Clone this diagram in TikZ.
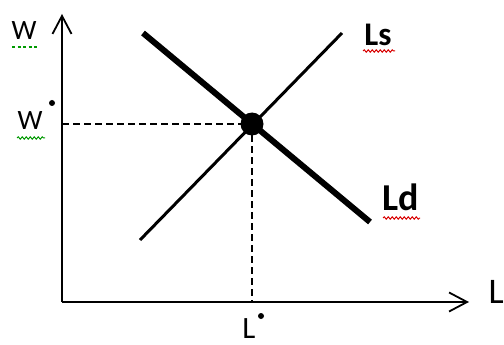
\documentclass[tikz,border=0pt]{standalone}
\usepackage{fontspec}
\setmainfont{Carlito}
\usetikzlibrary{arrows.meta,decorations.pathmorphing}
\begin{document}
\begin{tikzpicture}[x=1pt,y=-1pt,
  axis/.style={line width=1.8pt,-{Straight Barb[length=18pt,width=19pt,line width=1.8pt]}},
  guide/.style={line width=1.4pt,dash pattern=on 7pt off 4pt},
  supply/.style={line width=3pt},
  demand/.style={line width=6pt},
  lbl/.style={inner sep=0pt,anchor=base},
  supdot/.style={fill=black,circle,inner sep=0pt,minimum size=6pt},
  greenwave/.style={draw=green!60!black,line width=1pt,decorate,decoration={snake,amplitude=1.2pt,segment length=4pt}},
  redwave/.style={draw=red!85!black,line width=1pt,decorate,decoration={snake,amplitude=1.2pt,segment length=4pt}},
  greendots/.style={draw=green!60!black,line width=1.2pt,dash pattern=on 3pt off 2.5pt}]
\useasboundingbox (0,0) rectangle (504,345);
% axes
\coordinate (O) at (62,302);
\coordinate (ytip) at (62,14);
\coordinate (xtip) at (469,302);
\draw[axis] (O) -- (ytip);
\draw[axis] (O) -- (xtip);
% curves
\coordinate (s1) at (140,240);
\coordinate (s2) at (342,33);
\coordinate (d1) at (143,33);
\coordinate (d2) at (370,222);
\draw[supply] (s1) -- (s2);
\draw[demand] (d1) -- (d2);
% equilibrium
\node[fill=black,circle,inner sep=0pt,minimum size=23pt] (E) at (252,124) {};
\coordinate (wy) at (62,124);
\coordinate (lx) at (252,302);
\draw[guide] (wy) -- (E.center);
\draw[guide] (E.center) -- (lx);
% labels
\node[lbl,font=\fontsize{28}{30}\selectfont] (Wtop) at (24,40) {W};
\node[lbl,font=\fontsize{28}{30}\selectfont] (Wstar) at (30,130) {W};
\node[supdot] (Wdot) at (52,103) {};
\node[lbl,font=\fontsize{31}{33}\selectfont] (Lstar) at (249,338) {L};
\node[supdot] (Ldot) at (261,316) {};
\node[lbl,anchor=base east,font=\fontsize{36}{38}\selectfont] (Lax) at (504,303) {L};
\node[lbl,font=\bfseries\fontsize{33}{35}\selectfont] (Ls) at (378,46) {Ls};
\node[lbl,font=\bfseries\fontsize{38}{40}\selectfont] (Ld) at (401,210) {Ld};
% spell-check marks
\coordinate (g1a) at (12,47); \coordinate (g1b) at (38,47);
\draw[greendots] (g1a) -- (g1b);
\coordinate (g2a) at (17,138); \coordinate (g2b) at (45,138);
\draw[greenwave] (g2a) -- (g2b);
\coordinate (r1a) at (363,51); \coordinate (r1b) at (395,51);
\draw[redwave] (r1a) -- (r1b);
\coordinate (r2a) at (383,218); \coordinate (r2b) at (420,218);
\draw[redwave] (r2a) -- (r2b);
\end{tikzpicture}
\end{document}
